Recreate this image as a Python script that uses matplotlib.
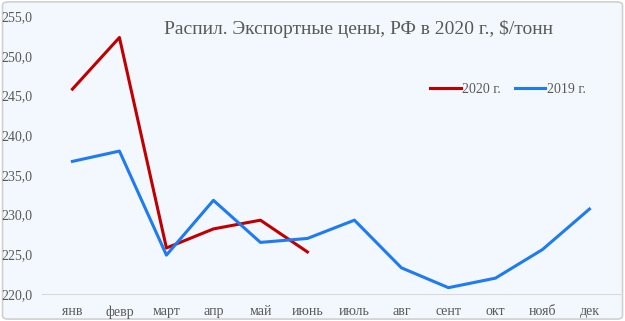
import matplotlib.pyplot as plt
from matplotlib.patches import FancyBboxPatch

months = ["янв", "февр", "март", "апр", "май", "июнь", "июль",
          "авг", "сент", "окт", "нояб", "дек"]
prices_2020 = [245.8, 252.3, 225.8, 228.2, 229.3, 225.3]
prices_2019 = [236.7, 238.0, 224.9, 231.8, 226.5, 227.0, 229.3,
               223.3, 220.8, 222.0, 225.6, 230.7]
yticks = [220, 225, 230, 235, 240, 245, 250, 255]

plt.rcParams['font.family'] = ['Liberation Serif', 'DejaVu Serif']
txt = '#595959'
bg = '#F3F8FE'

fig = plt.figure(figsize=(6.25, 3.21), dpi=100)
fig.patch.set_facecolor('white')
frame = FancyBboxPatch((0.004, 0.006), 0.992, 0.988,
                       boxstyle="round,pad=0,rounding_size=0.01",
                       transform=fig.transFigure, facecolor=bg,
                       edgecolor='#D0D0D0', linewidth=1.2, zorder=-10)
fig.patches.append(frame)

ax = fig.add_axes([0.067, 0.084, 0.925, 0.866])
ax.set_facecolor('none')
x = range(len(months))
ax.plot(range(len(prices_2020)), prices_2020, color='#C00000', lw=2.2, label='2020 г.')
ax.plot(x, prices_2019, color='#1E7BF2', lw=2.2, label='2019 г.')

ax.set_xlim(-0.65, len(months) - 0.35)
ax.set_ylim(220, 255)
ax.set_xticks(list(x))
ax.set_xticklabels(months)
ax.set_yticks(yticks)
ax.set_yticklabels([f"{v},0" for v in yticks])
ax.tick_params(axis='both', length=0, labelsize=10, colors=txt)
ax.tick_params(axis='x', pad=8)
ax.tick_params(axis='y', pad=7)
for s in ['top', 'right', 'left']:
    ax.spines[s].set_visible(False)
ax.spines['bottom'].set_color('#D9D9D9')

ax.text(0.548, 0.955, "Распил. Экспортные цены, РФ в 2020 г., $/тонн",
        transform=ax.transAxes, ha='center', va='center', fontsize=14, color=txt)
ax.legend(loc='center', bbox_to_anchor=(0.806, 0.737), ncol=2, frameon=False,
          fontsize=10, handlelength=2.2, handletextpad=0.1, columnspacing=1.0,
          labelcolor=txt)

fig.savefig('out.png', dpi=100, facecolor=fig.get_facecolor())
